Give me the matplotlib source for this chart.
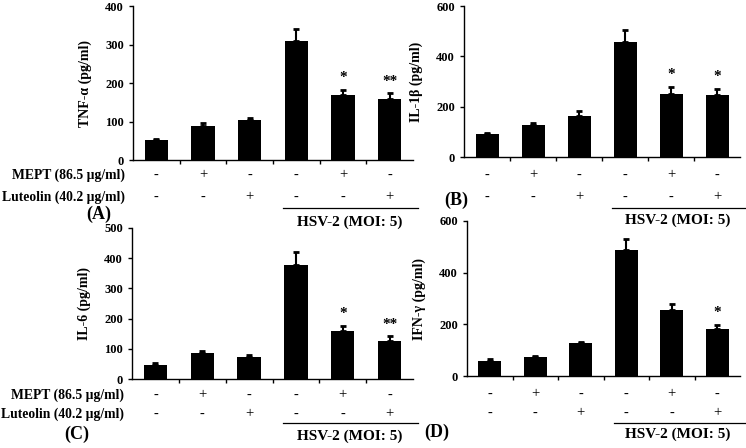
import matplotlib
matplotlib.use("Agg")
import matplotlib.pyplot as plt
import numpy as np

plt.rcParams["font.family"] = ["Liberation Serif", "DejaVu Serif"]
plt.rcParams["font.weight"] = "bold"

W, H = 746, 448

mept = ["-", "+", "-", "-", "+", "-"]
luteolin = ["-", "-", "+", "-", "-", "+"]

tnf_mean = [51, 88, 104, 309, 170, 158]
tnf_err = [3, 8, 5, 30, 12, 15]
tnf_stars = ["", "", "", "", "*", "**"]

il1b_mean = [91, 127, 163, 458, 251, 246]
il1b_err = [6, 8, 20, 45, 28, 25]
il1b_stars = ["", "", "", "", "*", "*"]

il6_mean = [47, 85, 74, 378, 158, 125]
il6_err = [5, 7, 5, 42, 19, 16]
il6_stars = ["", "", "", "", "*", "**"]

ifng_mean = [60, 75, 126, 486, 254, 181]
ifng_err = [4, 4, 5, 45, 26, 17]
ifng_stars = ["", "", "", "", "", "*"]


def px_box(left, right, top, bottom):
    return [left / W, 1 - bottom / H, (right - left) / W, (bottom - top) / H]


def panel(box, mean, err, stars, ylabel, ymax, ystep, tag, rows, show_names):
    ax = fig.add_axes(px_box(*box))
    ax.patch.set_visible(False)
    x = np.arange(len(mean))
    ax.bar(x, mean, width=0.5, color="black")
    ax.errorbar(x, mean, yerr=[np.zeros(len(err)), err], fmt="none",
                ecolor="black", elinewidth=1.5, capsize=2.5, capthick=2)
    ax.set_xlim(-0.5, len(mean) - 0.5)
    ax.set_ylim(0, ymax)
    ax.set_yticks(np.arange(0, ymax + 1, ystep))
    ax.set_xticks(np.arange(0.5, len(mean) - 0.5, 1))
    ax.set_xticklabels([])
    ax.tick_params(direction="out", length=3, width=1, labelsize=9)
    for s in ["top", "right"]:
        ax.spines[s].set_visible(False)
    for s in ["left", "bottom"]:
        ax.spines[s].set_linewidth(1)
    for lab in ax.get_yticklabels():
        lab.set_fontweight("bold")
    ax.set_ylabel(ylabel, fontsize=10, fontweight="bold")
    width_px = box[1] - box[0]
    ax.yaxis.set_label_coords(-41 / width_px, 0.5)

    pt = 72 / 100
    for i, (m, e, s) in enumerate(zip(mean, err, stars)):
        if s:
            ax.annotate(s, (i, m + e), xytext=(0, 12 * pt), textcoords="offset points",
                        ha="center", va="center", fontsize=11, fontweight="bold")

    r1, r2, line_y, text_y, tag_x, tag_y = rows
    for i in range(len(mean)):
        ax.annotate(mept[i], (i, 0), xycoords=("data", "axes fraction"),
                    xytext=(0, -r1 * pt), textcoords="offset points",
                    ha="center", va="center", fontsize=10.5, fontweight="normal")
        ax.annotate(luteolin[i], (i, 0), xycoords=("data", "axes fraction"),
                    xytext=(0, -r2 * pt), textcoords="offset points",
                    ha="center", va="center", fontsize=10.5, fontweight="normal")
    if show_names:
        ax.annotate("MEPT (86.5 µg/ml)", (0, 0), xycoords="axes fraction",
                    xytext=(-8 * pt, -r1 * pt), textcoords="offset points",
                    ha="right", va="center", fontsize=9.8, fontweight="bold")
        ax.annotate("Luteolin (40.2 µg/ml)", (0, 0), xycoords="axes fraction",
                    xytext=(-8 * pt, -r2 * pt), textcoords="offset points",
                    ha="right", va="center", fontsize=9.8, fontweight="bold")

    trans = ax.get_xaxis_transform()
    y_line = -line_y / (box[3] - box[2])
    ax.plot([2.72, 5.6], [y_line, y_line], color="black", lw=0.9,
            transform=trans, clip_on=False)
    ax.annotate("HSV-2 (MOI: 5)", (4.14, 0), xycoords=("data", "axes fraction"),
                xytext=(0, -text_y * pt), textcoords="offset points",
                ha="center", va="center", fontsize=11, fontweight="bold")
    fig.text(tag_x / W, 1 - tag_y / H, tag, ha="center", va="center",
             fontsize=13, fontweight="bold")
    return ax


fig = plt.figure(figsize=(W / 100, H / 100), dpi=100)

panel((133, 413, 6, 160), tnf_mean, tnf_err, tnf_stars, "TNF-α (pg/ml)",
      400, 100, "(A)", (15, 37, 48, 62, 99, 214), True)
panel((464, 740, 6, 157), il1b_mean, il1b_err, il1b_stars, "IL-1β (pg/ml)",
      600, 200, "(B)", (18, 40, 51, 63, 456, 200), False)
panel((132, 413, 228, 379), il6_mean, il6_err, il6_stars, "IL-6 (pg/ml)",
      500, 100, "(C)", (16, 35, 44, 57, 77, 434), True)
panel((467, 740, 221, 376), ifng_mean, ifng_err, ifng_stars, "IFN-γ (pg/ml)",
      600, 200, "(D)", (18, 37, 47, 58, 437, 432), False)

fig.savefig("out.png", dpi=100)
